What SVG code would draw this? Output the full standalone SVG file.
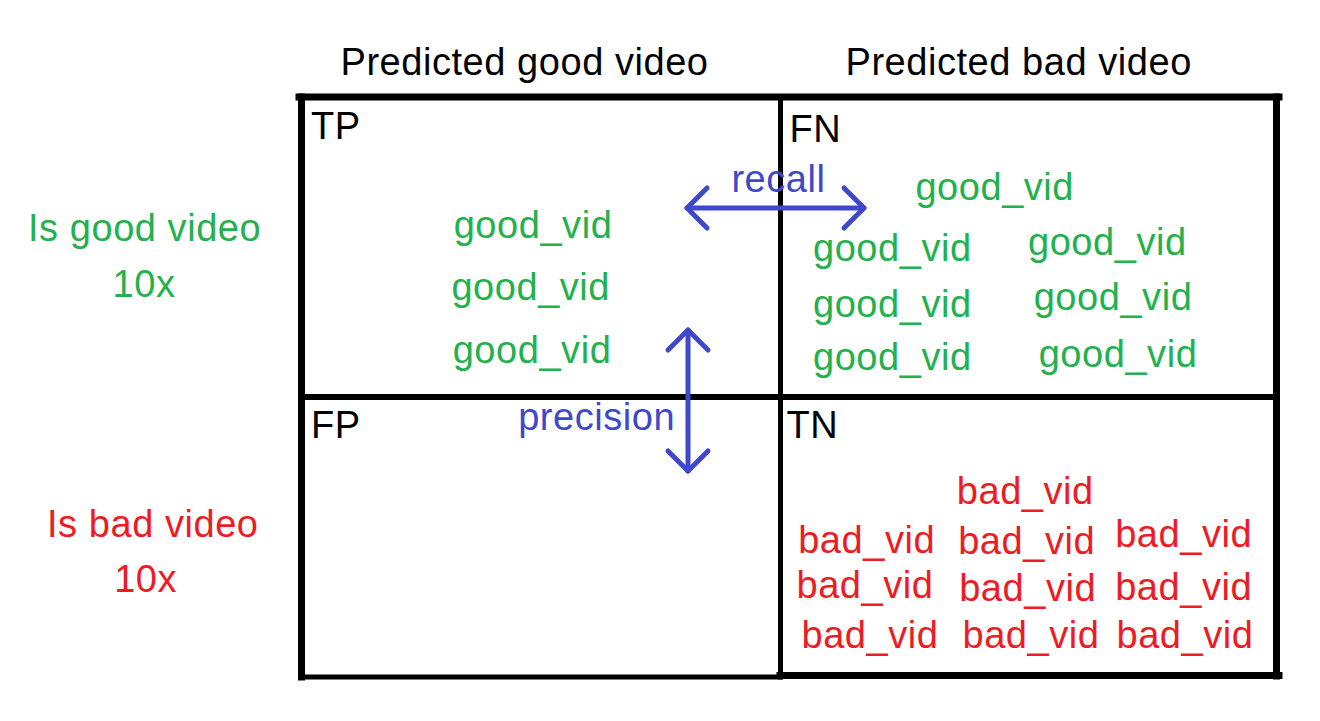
<svg xmlns="http://www.w3.org/2000/svg" width="1320" height="721" viewBox="0 0 1320 721">
<style>
text{font-family:"Liberation Sans",Arial,sans-serif;font-size:38px;letter-spacing:0.55px}
.k{fill:#000}
.g{fill:#22B14C}
.r{fill:#ED1C24}
.b{fill:#3F48CC}
.frame{stroke:#000;fill:none;stroke-linecap:square}
.arr{stroke:#3F48CC;stroke-width:5;fill:none;stroke-linecap:round}
</style>
<defs>
<marker id="head" markerUnits="userSpaceOnUse" viewBox="-25 -24 30 48" markerWidth="30" markerHeight="48" refX="0" refY="0" orient="auto-start-reverse" overflow="visible">
<path d="M-20,-20 L0,0 L-20,20" fill="none" stroke="#3F48CC" stroke-width="5" stroke-linecap="round" stroke-linejoin="round"/>
</marker>
</defs>
<rect width="1320" height="721" fill="#fff"/>
<g id="grid" class="frame">
<line x1="299" y1="97" x2="1279" y2="97" stroke-width="7"/>
<line x1="301.5" y1="97" x2="301.5" y2="677" stroke-width="7"/>
<line x1="1276.5" y1="97" x2="1276.5" y2="676" stroke-width="7"/>
<line x1="301" y1="677" x2="780" y2="677" stroke-width="5"/>
<line x1="780" y1="675.5" x2="1279" y2="675.5" stroke-width="7"/>
<line x1="780.5" y1="97" x2="780.5" y2="677" stroke-width="5"/>
<line x1="301" y1="397" x2="1277" y2="397" stroke-width="6"/>
</g>
<g id="header-good"><text class="k" x="340.5" y="75">Predicted good video</text></g>
<g id="header-bad"><text class="k" x="845.5" y="75">Predicted bad video</text></g>
<g id="row-good">
<text class="g" x="28" y="240.7">Is good video</text>
<text class="g" x="112.6" y="296.7">10x</text>
</g>
<g id="row-bad">
<text class="r" x="47" y="536.7">Is bad video</text>
<text class="r" x="114.2" y="591.7">10x</text>
</g>
<g id="cell-tp">
<text class="k" x="311" y="138.5">TP</text>
<text class="g" x="453.7" y="238.3">good_vid</text>
<text class="g" x="451.4" y="300">good_vid</text>
<text class="g" x="452.7" y="363.3">good_vid</text>
</g>
<g id="cell-fn">
<text class="k" x="789.5" y="141.7">FN</text>
<text class="g" x="915.4" y="200">good_vid</text>
<text class="g" x="813" y="261">good_vid</text>
<text class="g" x="813" y="316.7">good_vid</text>
<text class="g" x="813" y="370">good_vid</text>
<text class="g" x="1028" y="255">good_vid</text>
<text class="g" x="1033.7" y="310">good_vid</text>
<text class="g" x="1038.7" y="366.7">good_vid</text>
</g>
<g id="cell-fp">
<text class="k" x="311" y="438.3">FP</text>
</g>
<g id="cell-tn">
<text class="k" x="786.5" y="438.3">TN</text>
<text class="r" x="956.8" y="504.3">bad_vid</text>
<text class="r" x="798.2" y="553.3">bad_vid</text>
<text class="r" x="796.5" y="598.3">bad_vid</text>
<text class="r" x="801.5" y="648.3">bad_vid</text>
<text class="r" x="958.2" y="554">bad_vid</text>
<text class="r" x="959.2" y="600.7">bad_vid</text>
<text class="r" x="962.5" y="648.3">bad_vid</text>
<text class="r" x="1115.2" y="546.7">bad_vid</text>
<text class="r" x="1115.2" y="600">bad_vid</text>
<text class="r" x="1116.5" y="648.3">bad_vid</text>
</g>
<g id="connectors">
<line class="arr" x1="687" y1="208" x2="864" y2="208" marker-start="url(#head)" marker-end="url(#head)"/>
<text class="b" x="731.4" y="192.3">recall</text>
<line class="arr" x1="688" y1="330" x2="688" y2="471" marker-start="url(#head)" marker-end="url(#head)"/>
<text class="b" x="518.2" y="430">precision</text>
</g>
</svg>
